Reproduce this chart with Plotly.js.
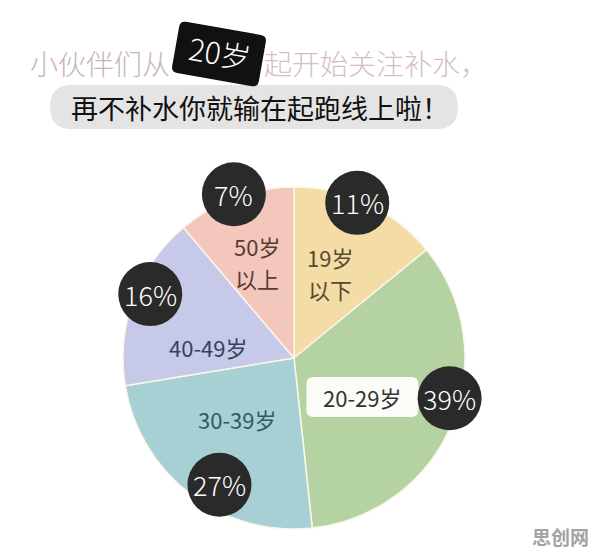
<!DOCTYPE html>
<html>
<head>
<meta charset="utf-8">
<script src="https://cdn.plot.ly/plotly-3.0.1.min.js"></script>
<style>html,body{margin:0;padding:0;background:#fff;}#chart{width:596px;height:555px;}</style>
</head>
<body>
<div id="chart"></div>
<script>
// ---- data ----
const ageGroups = ["19岁以下", "20-29岁", "30-39岁", "40-49岁", "50岁以上"];
const sliceLabels = [["19岁", "以下"], ["20-29岁"], ["30-39岁"], ["40-49岁"], ["50岁", "以上"]];
const percentLabels = ["11%", "39%", "27%", "16%", "7%"];
// slice sizes as drawn in the picture (the infographic is not to scale)
const drawnShares = [14.1, 34.2, 24.1, 16.4, 11.2];
const titleLeft = "小伙伴们从";
const titleBadge = "20岁";
const titleRight = "起开始关注补水，";
const subtitle = "再不补水你就输在起跑线上啦！";
const watermark = "思创网";

// ---- styles ----
const W = 596, H = 555;
const sliceColors = ["#f3dca6", "#b5d3a2", "#a7d0d4", "#c7c9e8", "#f3c7bc"];
const labelColors = ["#5a4a32", "#333333", "#2f5b61", "#3a3f5e", "#5b3b36"];
const FONT = "'Noto Sans CJK SC', 'Noto Sans', sans-serif";
const cx = 294, cy = 358, R = 171;
// placement of annotations relative to slice mid-angle (deg offset, radius fraction)
const circOff = [-3.2, -7.8, -6.8, 3.8, 0], circFrac = [0.98, 0.94, 0.86, 0.92, 1.02];
const labOff = [-2.4, 7.3, 5.6, -12.6, -1.0], labFrac = [0.54, 0.46, 0.49, 0.51, 0.6];
const circR = 32;
const lineGap = 32;

const px = x => x / W, py = y => 1 - y / H;

function rrect(x0, y0, w, h, r, deg) {
  const a = deg * Math.PI / 180, c = Math.cos(a), s = Math.sin(a);
  const P = (x, y) => { const X = x0 + x * c - y * s, Y = y0 + x * s + y * c; return px(X).toFixed(5) + ',' + py(Y).toFixed(5); };
  const hw = w / 2, hh = h / 2;
  return 'M' + P(-hw + r, -hh) + ' L' + P(hw - r, -hh) + ' Q' + P(hw, -hh) + ' ' + P(hw, -hh + r) +
    ' L' + P(hw, hh - r) + ' Q' + P(hw, hh) + ' ' + P(hw - r, hh) +
    ' L' + P(-hw + r, hh) + ' Q' + P(-hw, hh) + ' ' + P(-hw, hh - r) +
    ' L' + P(-hw, -hh + r) + ' Q' + P(-hw, -hh) + ' ' + P(-hw + r, -hh) + ' Z';
}

const total = drawnShares.reduce((a, b) => a + b, 0);
let cum = 0;
const mids = drawnShares.map(v => { const m = (cum + v / 2) / total * 360; cum += v; return m; });
function polar(angDeg, frac) {
  const a = angDeg * Math.PI / 180;
  return [cx + R * frac * Math.sin(a), cy - R * frac * Math.cos(a)];
}

const shapes = [];
const annotations = [];

// subtitle pill
shapes.push({type: 'path', xref: 'paper', yref: 'paper', path: rrect(254, 107, 408, 44, 22, 0),
  fillcolor: '#e4e4e4', line: {width: 0}, layer: 'below'});
// badge
shapes.push({type: 'path', xref: 'paper', yref: 'paper', path: rrect(219, 54, 88, 52, 6, 10),
  fillcolor: '#111111', line: {width: 0}});

// white label box behind 20-29
const gLab = polar(mids[1] + labOff[1], labFrac[1]);
shapes.push({type: 'path', xref: 'paper', yref: 'paper', path: rrect(gLab[0], gLab[1], 112, 40, 7, 0),
  fillcolor: '#fbfbf8', line: {width: 0}});

ageGroups.forEach((g, i) => {
  const [x, y] = polar(mids[i] + circOff[i], circFrac[i]);
  shapes.push({type: 'circle', xref: 'paper', yref: 'paper',
    x0: px(x - circR), x1: px(x + circR), y0: py(y + circR), y1: py(y - circR),
    fillcolor: '#2a2a2a', line: {color: '#2a2a2a', width: 0}});
  annotations.push({xref: 'paper', yref: 'paper', x: px(x), y: py(y), xanchor: 'center', yanchor: 'middle',
    text: percentLabels[i], showarrow: false, font: {family: FONT, size: 27, weight: 300, color: '#ffffff'}});
  const [lx, ly] = polar(mids[i] + labOff[i], labFrac[i]);
  const lines = sliceLabels[i];
  lines.forEach((t, k) => {
    const yy = ly + (k - (lines.length - 1) / 2) * lineGap;
    annotations.push({xref: 'paper', yref: 'paper', x: px(lx), y: py(yy), xanchor: 'center', yanchor: 'middle',
      text: t, showarrow: false, borderpad: 0, font: {family: FONT, size: 22, color: labelColors[i]}});
  });
});

// titles
annotations.push({xref: 'paper', yref: 'paper', x: px(100), y: py(63), xanchor: 'center', yanchor: 'middle',
  text: titleLeft, showarrow: false, font: {family: FONT, size: 28, weight: 300, color: '#c7b5b5'}});
annotations.push({xref: 'paper', yref: 'paper', x: px(220), y: py(52), xanchor: 'center', yanchor: 'middle',
  text: titleBadge, showarrow: false, textangle: 10, font: {family: FONT, size: 30, weight: 300, color: '#ffffff'}});
annotations.push({xref: 'paper', yref: 'paper', x: px(376), y: py(63), xanchor: 'center', yanchor: 'middle',
  text: titleRight, showarrow: false, font: {family: FONT, size: 28, weight: 300, color: '#d6bfbf'}});
annotations.push({xref: 'paper', yref: 'paper', x: px(260), y: py(107), xanchor: 'center', yanchor: 'middle',
  text: subtitle, showarrow: false, font: {family: FONT, size: 27, color: '#111111'}});
annotations.push({xref: 'paper', yref: 'paper', x: px(560), y: py(536), xanchor: 'center', yanchor: 'middle',
  text: '<b>' + watermark + '</b>', showarrow: false, font: {family: FONT, size: 19, color: '#a3a3a3'}});

const data = [{
  type: 'pie', values: drawnShares, labels: ageGroups, sort: false, direction: 'clockwise', rotation: 0,
  textinfo: 'none', hoverinfo: 'none', showlegend: false,
  marker: {colors: sliceColors, line: {color: '#fbf6ea', width: 1.5}},
  domain: {x: [px(cx - R), px(cx + R)], y: [py(cy + R), py(cy - R)]}
}];

const layout = {
  width: W, height: H, margin: {l: 0, r: 0, t: 0, b: 0},
  paper_bgcolor: '#ffffff', plot_bgcolor: '#ffffff',
  shapes: shapes, annotations: annotations, showlegend: false
};
Plotly.newPlot('chart', data, layout, {displayModeBar: false, staticPlot: true});
</script>
</body>
</html>
